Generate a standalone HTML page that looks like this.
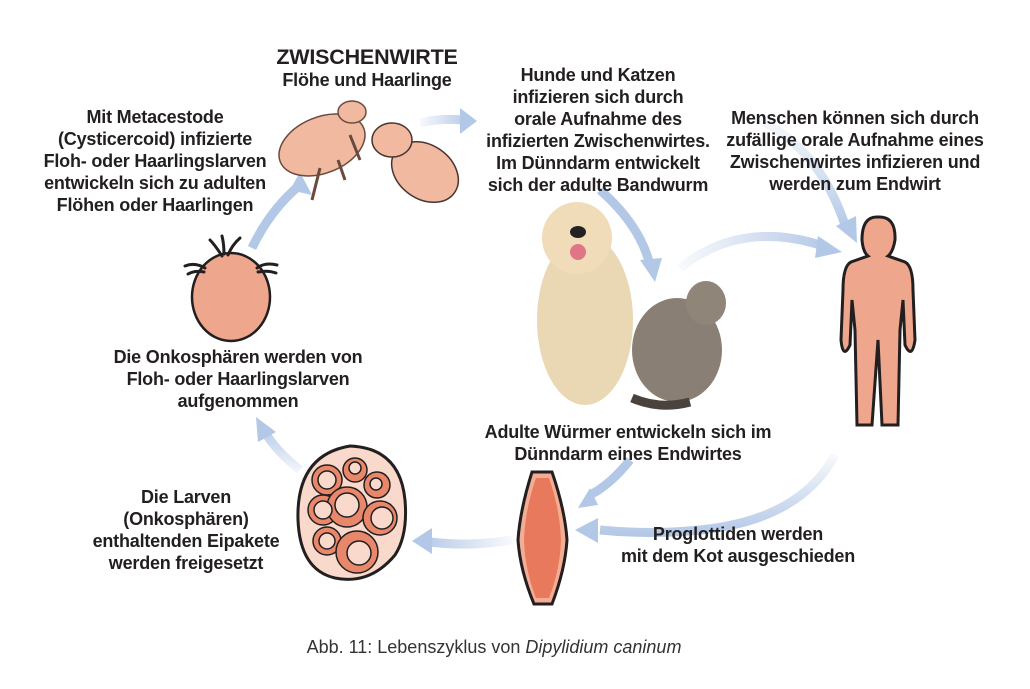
<!DOCTYPE html>
<html><head><meta charset="utf-8"><style>
body{margin:0;background:#fff;}
#c{position:relative;width:1030px;height:689px;overflow:hidden;font-family:"Liberation Sans",sans-serif;}
.t{position:absolute;font-weight:bold;font-size:18px;line-height:22px;color:#231f20;text-align:center;white-space:nowrap;transform:translateX(-50%);letter-spacing:-0.2px;}
svg{position:absolute;left:0;top:0;}
</style></head><body><div id="c">
<svg width="1030" height="689" viewBox="0 0 1030 689">
<defs>
<linearGradient id="gA" gradientUnits="userSpaceOnUse" x1="420" y1="0" x2="470" y2="0"><stop offset="0" stop-color="#b3c8e6" stop-opacity="0.1"/><stop offset="1" stop-color="#b3c8e6"/></linearGradient>
<linearGradient id="gB" gradientUnits="userSpaceOnUse" x1="680" y1="0" x2="830" y2="0"><stop offset="0" stop-color="#b3c8e6" stop-opacity="0.1"/><stop offset="1" stop-color="#b3c8e6"/></linearGradient>
<linearGradient id="gC" gradientUnits="userSpaceOnUse" x1="0" y1="120" x2="0" y2="230"><stop offset="0" stop-color="#b3c8e6" stop-opacity="0.1"/><stop offset="1" stop-color="#b3c8e6"/></linearGradient>
<linearGradient id="gD" gradientUnits="userSpaceOnUse" x1="0" y1="450" x2="0" y2="535"><stop offset="0" stop-color="#b3c8e6" stop-opacity="0.05"/><stop offset="1" stop-color="#b3c8e6"/></linearGradient>
<linearGradient id="gE" gradientUnits="userSpaceOnUse" x1="512" y1="0" x2="420" y2="0"><stop offset="0" stop-color="#b3c8e6" stop-opacity="0.1"/><stop offset="1" stop-color="#b3c8e6"/></linearGradient>
<linearGradient id="gF" gradientUnits="userSpaceOnUse" x1="0" y1="475" x2="0" y2="425"><stop offset="0" stop-color="#b3c8e6" stop-opacity="0.1"/><stop offset="1" stop-color="#b3c8e6"/></linearGradient>
</defs>
<g fill="none" stroke="#b3c8e6" stroke-width="9">
<path d="M252 248 Q270 210 300 185"/>
<path d="M420 123 Q440 118 462 120" stroke="url(#gA)"/>
<path d="M600 190 Q640 225 650 265"/>
<path d="M680 268 Q740 220 820 245" stroke="url(#gB)"/>
<path d="M760 120 Q820 150 845 225" stroke="url(#gC)"/>
<path d="M835 455 Q800 520 700 530 Q650 535 600 530" stroke="url(#gD)"/>
<path d="M630 460 Q610 485 590 495"/>
<path d="M512 540 Q470 547 430 542" stroke="url(#gE)"/>
<path d="M300 470 Q275 450 265 432" stroke="url(#gF)"/>
</g>
<g fill="#b3c8e6">
<polygon points="300,172 312,195 290,190"/>
<polygon points="477,121 460,108 460,134"/>
<polygon points="655,282 640,260 662,258"/>
<polygon points="842,252 818,236 815,258"/>
<polygon points="857,243 836,226 856,216"/>
<polygon points="575,530 598,518 598,543"/>
<polygon points="578,508 590,488 598,505"/>
<polygon points="412,541 432,528 432,554"/>
<polygon points="256,417 276,432 258,442"/>
</g>
<ellipse cx="231" cy="297" rx="39" ry="44" fill="#eea78c" stroke="#231f20" stroke-width="2.5"/>
<g stroke="#231f20" stroke-width="3" fill="none" stroke-linecap="round">
<path d="M222 256 Q215 245 210 240"/><path d="M228 255 Q232 245 240 238"/><path d="M224 254 Q224 244 222 236"/>
<path d="M205 268 Q195 262 185 266"/><path d="M257 268 Q265 262 277 265"/><path d="M258 272 Q268 270 276 273"/><path d="M204 272 Q195 270 188 274"/>
</g>
<g stroke="#6b4a3e" stroke-width="1.5" fill="#f0b9a0">
<ellipse cx="322" cy="145" rx="45" ry="28" transform="rotate(-22 322 145)"/>
<ellipse cx="352" cy="112" rx="14" ry="11"/>
<path d="M320 168 L312 200 M338 160 L345 180 M350 135 L360 160" fill="none" stroke-width="3"/>
</g>
<g stroke="#4a3530" stroke-width="1.5" fill="#f0b9a0">
<ellipse cx="425" cy="172" rx="36" ry="27" transform="rotate(35 425 172)"/>
<ellipse cx="392" cy="140" rx="20" ry="17"/>
</g>
<ellipse cx="585" cy="320" rx="48" ry="85" fill="#ead7b4"/>
<ellipse cx="577" cy="238" rx="35" ry="36" fill="#f0dcb8"/>
<ellipse cx="578" cy="232" rx="8" ry="6" fill="#222"/>
<ellipse cx="578" cy="252" rx="8" ry="8" fill="#e07585"/>
<ellipse cx="677" cy="350" rx="45" ry="52" fill="#8a7f74"/>
<ellipse cx="706" cy="303" rx="20" ry="22" fill="#8f8579"/>
<path d="M632 398 Q660 410 690 402" stroke="#4a433d" stroke-width="9" fill="none"/>
<path d="M878 217 Q896 216 895 240 Q893 252 888 256 L905 262 Q913 266 913 290 L915 340 Q912 360 905 345 L903 300 L900 330 L898 425 L882 425 L878 340 L872 425 L857 425 L855 330 L852 300 L850 345 Q843 360 841 340 L843 290 Q843 266 851 262 L868 256 Q863 252 862 240 Q862 216 878 217Z" fill="#eea78c" stroke="#231f20" stroke-width="3"/>
<path d="M350 446 Q400 448 405 500 Q408 535 395 555 Q370 585 335 578 Q300 570 298 520 Q296 455 350 446Z" fill="#f8d9cc" stroke="#231f20" stroke-width="3"/>
<g stroke="#231f20" stroke-width="1.5" fill="#e9876a">
<circle cx="327" cy="480" r="15"/><circle cx="355" cy="470" r="12"/><circle cx="377" cy="485" r="13"/>
<circle cx="323" cy="510" r="15"/><circle cx="347" cy="507" r="20"/><circle cx="380" cy="518" r="17"/>
<circle cx="327" cy="541" r="14"/><circle cx="357" cy="552" r="21"/>
</g>
<g stroke="#231f20" stroke-width="1.5" fill="#f8d9cc">
<circle cx="327" cy="480" r="9"/><circle cx="355" cy="468" r="6"/><circle cx="376" cy="484" r="6"/>
<circle cx="323" cy="510" r="9"/><circle cx="347" cy="505" r="12"/><circle cx="382" cy="518" r="11"/>
<circle cx="327" cy="541" r="8"/><circle cx="359" cy="553" r="12"/>
</g>
<path d="M532 472 L552 472 Q565 510 567 540 Q565 570 552 604 L534 604 Q520 570 518 540 Q520 510 532 472Z" fill="#f2ad94" stroke="#231f20" stroke-width="3"/>
<path d="M536 478 L549 478 Q560 510 561 540 Q560 570 549 598 L536 598 Q525 570 524 540 Q525 510 536 478Z" fill="#e8795c"/>
</svg>
<div class="t" style="left:367px;top:44px;font-size:21.5px;line-height:26px">ZWISCHENWIRTE</div>
<div class="t" style="left:367px;top:69px">Flöhe und Haarlinge</div>
<div class="t" style="left:155px;top:106px">Mit Metacestode<br>(Cysticercoid) infizierte<br>Floh- oder Haarlingslarven<br>entwickeln sich zu adulten<br>Flöhen oder Haarlingen</div>
<div class="t" style="left:598px;top:64px">Hunde und Katzen<br>infizieren sich durch<br>orale Aufnahme des<br>infizierten Zwischenwirtes.<br>Im Dünndarm entwickelt<br>sich der adulte Bandwurm</div>
<div class="t" style="left:855px;top:107px">Menschen können sich durch<br>zufällige orale Aufnahme eines<br>Zwischenwirtes infizieren und<br>werden zum Endwirt</div>
<div class="t" style="left:238px;top:346px">Die Onkosphären werden von<br>Floh- oder Haarlingslarven<br>aufgenommen</div>
<div class="t" style="left:628px;top:421px">Adulte Würmer entwickeln sich im<br>Dünndarm eines Endwirtes</div>
<div class="t" style="left:186px;top:486px">Die Larven<br>(Onkosphären)<br>enthaltenden Eipakete<br>werden freigesetzt</div>
<div class="t" style="left:738px;top:523px">Proglottiden werden<br>mit dem Kot ausgeschieden</div>
<div class="t" style="left:494px;top:636px;font-weight:normal;color:#333;font-size:18px;letter-spacing:0">Abb. 11: Lebenszyklus von <i>Dipylidium caninum</i></div>
</div></body></html>
